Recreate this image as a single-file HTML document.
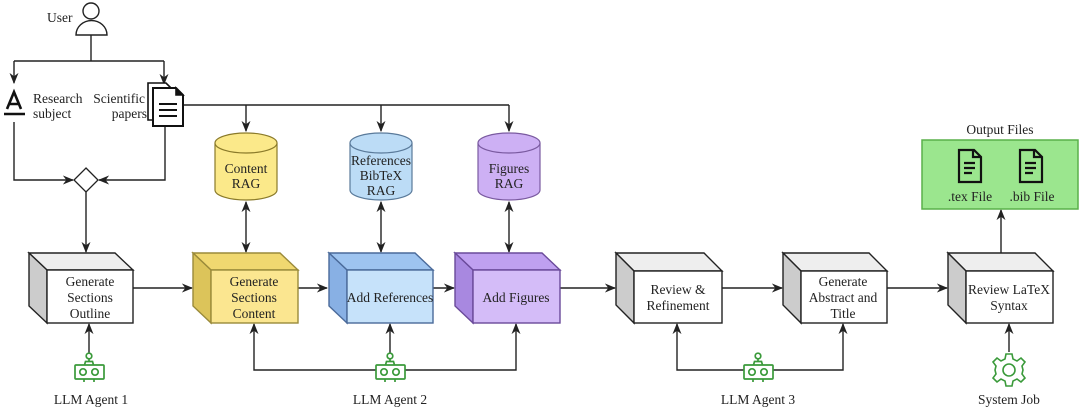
<!DOCTYPE html>
<html><head><meta charset="utf-8"><style>
html,body{margin:0;padding:0;background:#fff;}
svg, svg text{font-family:"Liberation Serif","DejaVu Serif",serif;}
</style></head><body>
<svg width="1080" height="408" viewBox="0 0 1080 408" xmlns="http://www.w3.org/2000/svg" font-family="Liberation Serif, DejaVu Serif, serif">
<defs>
<marker id="a" viewBox="0 0 10 10" refX="9" refY="5" markerWidth="8" markerHeight="8" orient="auto-start-reverse"><path d="M0,1 L10,5 L0,9 L3,5 z" fill="#222"/></marker>
<g id="bot" fill="none" stroke="#3a9a3a" stroke-width="1.7">
<circle cx="0" cy="-15" r="2.8"/><path d="M0,-12 V-9.5 M-4.5,-6 L-3.5,-9.5 H3.5 L4.5,-6"/>
<rect x="-14" y="-6" width="29" height="14" rx="1"/>
<circle cx="-6" cy="1" r="3.2"/><circle cx="6" cy="1" r="3.2"/>
<path d="M-5,8 V11 M5,8 V11"/></g>
<g id="doc" fill="none" stroke="#111" stroke-width="2.2"><path d="M-11,-16 H4 L11,-9 V16 H-11 Z"/><path d="M3,-16 V-9 H11"/><path d="M-6,-3 H5 M-6,2 H5 M-6,7 H2"/></g>
</defs>
<g stroke="#222" stroke-width="1.4" fill="none">
<circle cx="91" cy="11" r="8"/><path d="M76,35 A15,14 0 0 1 107,35 Z"/>
<path d="M91,35 V61 M14,61 H164"/>
<path d="M14,61 V83" marker-end="url(#a)"/><path d="M164,61 V84" marker-end="url(#a)"/>
<path d="M14,122 V180 H73" marker-end="url(#a)"/>
<path d="M165,126 V180 H99" marker-end="url(#a)"/>
<path d="M86,192 V252" marker-end="url(#a)"/>
<path d="M183,105 H509"/>
<path d="M246,105 V131" marker-end="url(#a)"/><path d="M381,105 V131" marker-end="url(#a)"/><path d="M509,105 V131" marker-end="url(#a)"/>
<path d="M246,202 V252" marker-start="url(#a)" marker-end="url(#a)"/>
<path d="M381,202 V252" marker-start="url(#a)" marker-end="url(#a)"/>
<path d="M509,202 V252" marker-start="url(#a)" marker-end="url(#a)"/>
<path d="M133,288 H192" marker-end="url(#a)"/>
<path d="M298,288 H327" marker-end="url(#a)"/>
<path d="M433,288 H454" marker-end="url(#a)"/>
<path d="M560,288 H615" marker-end="url(#a)"/>
<path d="M722,288 H782" marker-end="url(#a)"/>
<path d="M887,288 H947" marker-end="url(#a)"/>
<path d="M1001,253 V210" marker-end="url(#a)"/>
<path d="M89,354 V324" marker-end="url(#a)"/>
<path d="M376,370 H254 V324" marker-end="url(#a)"/>
<path d="M405,370 H516 V324" marker-end="url(#a)"/>
<path d="M390,354 V324" marker-end="url(#a)"/>
<path d="M744,370 H677 V324" marker-end="url(#a)"/>
<path d="M773,370 H843 V324" marker-end="url(#a)"/>
<path d="M1009,352 V324" marker-end="url(#a)"/>
</g>
<path d="M86,168 L98,180 L86,192 L74,180 Z" fill="#fff" stroke="#222" stroke-width="1.3"/>
<g stroke="#111" stroke-width="2.6" fill="none"><path d="M7,109 L14,92 L21,109 M9,104 H19"/><path d="M4,114 H25" stroke-width="2.4"/></g>
<g stroke="#111" stroke-width="1.6" fill="#fff"><path d="M148,83 H166 L172,89 V120 H148 Z"/><path d="M153,88 H176 L183,95 V126 H153 Z" stroke-width="2"/><path d="M176,88 L183,95 H176 Z" fill="#111"/><path d="M159,104 H177 M159,110 H177 M159,116 H177" stroke-width="2"/></g>
<g font-size="13.5" fill="#222">
<text x="47" y="22">User</text>
<text x="33" y="103">Research</text><text x="33" y="118">subject</text>
<text x="145" y="103" text-anchor="end">Scientific</text><text x="147" y="118" text-anchor="end">papers</text>
</g>
<g stroke="#8a7a2a" stroke-width="1.2"><path d="M215,143 V190 A31,10 0 0 0 277,190 V143" fill="#fbe98a"/><ellipse cx="246" cy="143" rx="31" ry="10" fill="#fbe98a"/></g>
<g stroke="#5a7a9a" stroke-width="1.2"><path d="M350,143 V190 A31,10 0 0 0 412,190 V143" fill="#bcdcf6"/><ellipse cx="381" cy="143" rx="31" ry="10" fill="#bcdcf6"/></g>
<g stroke="#7a5aa0" stroke-width="1.2"><path d="M478,143 V190 A31,10 0 0 0 540,190 V143" fill="#cdb0f4"/><ellipse cx="509" cy="143" rx="31" ry="10" fill="#cdb0f4"/></g>
<g font-size="13.5" fill="#222" text-anchor="middle">
<text x="246" y="173">Content</text><text x="246" y="188">RAG</text>
<text x="381" y="165">References</text><text x="381" y="180">BibTeX</text><text x="381" y="195">RAG</text>
<text x="509" y="173">Figures</text><text x="509" y="188">RAG</text>
</g>
<g stroke="#222" stroke-width="1.4">
<g><path d="M29,253 H115 L133,270 H47 Z" fill="#eee"/><path d="M29,253 L47,270 V323 L29,306 Z" fill="#ccc"/><rect x="47" y="270" width="86" height="53" fill="#fff"/></g>
<g stroke="#9a8a3a"><path d="M193,253 H280 L298,270 H211 Z" fill="#f0d870"/><path d="M193,253 L211,270 V323 L193,306 Z" fill="#dcc45a"/><rect x="211" y="270" width="87" height="53" fill="#fbe690"/></g>
<g stroke="#4a6a9a"><path d="M329,253 H415 L433,270 H347 Z" fill="#9ec4f0"/><path d="M329,253 L347,270 V323 L329,306 Z" fill="#88b0e4"/><rect x="347" y="270" width="86" height="53" fill="#c6e2fa"/></g>
<g stroke="#6a4a9a"><path d="M455,253 H542 L560,270 H473 Z" fill="#bfa0f0"/><path d="M455,253 L473,270 V323 L455,306 Z" fill="#a888e0"/><rect x="473" y="270" width="87" height="53" fill="#d4bcf8"/></g>
<g><path d="M616,253 H704 L722,271 H634 Z" fill="#eee"/><path d="M616,253 L634,271 V323 L616,305 Z" fill="#ccc"/><rect x="634" y="271" width="88" height="52" fill="#fff"/></g>
<g><path d="M783,253 H869 L887,271 H801 Z" fill="#eee"/><path d="M783,253 L801,271 V323 L783,305 Z" fill="#ccc"/><rect x="801" y="271" width="86" height="52" fill="#fff"/></g>
<g><path d="M948,253 H1035 L1053,271 H966 Z" fill="#eee"/><path d="M948,253 L966,271 V323 L948,305 Z" fill="#ccc"/><rect x="966" y="271" width="87" height="52" fill="#fff"/></g>
</g>
<g font-size="13.5" fill="#222" text-anchor="middle">
<text x="90" y="286">Generate</text><text x="90" y="302">Sections</text><text x="90" y="318">Outline</text>
<text x="254" y="286">Generate</text><text x="254" y="302">Sections</text><text x="254" y="318">Content</text>
<text x="390" y="302">Add References</text>
<text x="516" y="302">Add Figures</text>
<text x="678" y="294">Review &amp;</text><text x="678" y="310">Refinement</text>
<text x="843" y="286">Generate</text><text x="843" y="302">Abstract and</text><text x="843" y="318">Title</text>
<text x="1009" y="294">Review LaTeX</text><text x="1009" y="310">Syntax</text>
</g>
<rect x="922" y="140" width="156" height="69" fill="#9be68e" stroke="#5ab04a" stroke-width="1.5"/>
<use href="#doc" x="970" y="166"/><use href="#doc" x="1031" y="166"/>
<g font-size="13.5" fill="#222" text-anchor="middle">
<text x="1000" y="134">Output Files</text>
<text x="970" y="201">.tex File</text><text x="1032" y="201">.bib File</text>
</g>
<use href="#bot" x="89" y="371"/><use href="#bot" x="390" y="371"/><use href="#bot" x="758" y="371"/>
<g transform="translate(1009,370)" fill="none" stroke="#3a9a3a" stroke-width="1.6">
<path d="M-3,-16 H3 L4,-11 L8,-9 L12,-12 L16,-8 L13,-4 L14,0 L13,4 L16,8 L12,12 L8,9 L4,11 L3,16 H-3 L-4,11 L-8,9 L-12,12 L-16,8 L-13,4 L-14,0 L-13,-4 L-16,-8 L-12,-12 L-8,-9 L-4,-11 Z"/>
<circle r="6"/></g>
<g font-size="13.5" fill="#222" text-anchor="middle">
<text x="91" y="404">LLM Agent 1</text><text x="390" y="404">LLM Agent 2</text><text x="758" y="404">LLM Agent 3</text><text x="1009" y="404">System Job</text>
</g>
</svg>
</body></html>
